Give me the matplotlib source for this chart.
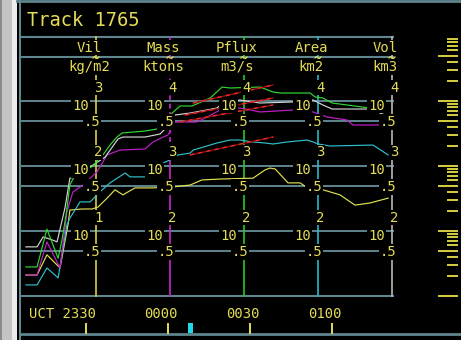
import numpy as np
import matplotlib.pyplot as plt
from matplotlib import transforms
from matplotlib.patches import Rectangle

plt.rcParams['font.family'] = ['DejaVu Sans Mono']

title = "Track 1765"
var_names = ["Vil", "Mass", "Pflux", "Area", "Vol"]
var_units = ["kg/m2", "ktons", "m3/s", "km2", "km3"]
var_top_exp = [3, 4, 4, 4, 4]
time_ticks = [30, 60, 90, 120]          # minutes after 2300 UCT
time_labels = ["UCT 2330", "0000", "0030", "0100"]
cursor_time = 68.2

# series, time in minutes after 2300 UCT
vil_t = [8.0, 12.1, 15.7, 20.5, 23.4, 24.1, 28.5, 32.2, 34.4, 37.7, 40.6, 43.5,
         47.9, 54.5, 62.6, 68.1, 72.4, 79.0, 91.1, 95.5, 97.3, 99.2, 103.9,
         108.3, 110.1, 116.7, 122.9, 128.4, 133.9, 140.5]
vil = [2.1, 2.1, 4.3, 2.7, 12.4, 21, 21.8, 21.8, 23.4, 32, 43, 36, 46, 46, 48,
       51, 61, 63, 65, 87, 93, 90, 55, 55, 49, 43, 36, 25, 27, 32]

mass_t = [8.0, 12.1, 15.7, 20.5, 23.0, 25.2, 28.9, 34.0, 37.7, 42.4, 51.6, 54.5,
          58.2, 60.0, 62.6, 70.6, 74.3, 79.0, 86.3, 93.7, 105.7, 113.1, 118.2,
          125.5, 127.7, 138.3]
mass = [21, 21, 68, 27, 196, 398, 510, 810, 1480, 1760, 1830, 2340, 2790, 3000,
        4750, 4750, 5670, 7270, 7800, 6780, 7270, 6780, 5670, 5100, 4270, 4270]

pflux_t = [8.0, 12.1, 15.7, 19.8, 21.2, 22.7, 24.1, 25.6, 32.6, 34.4, 36.2, 38.8,
           41.3, 43.2, 51.6, 56.0, 58.9, 61.5, 64.4, 68.8, 75.4, 79.8, 82.7,
           93.7, 98.4, 101.0, 112.0, 113.8, 116.7, 120.0, 133.9]
pflux = [28, 28, 107, 38, 73, 176, 510, 680, 1000, 1240, 1480, 2100, 2790, 3220,
         3450, 3710, 4590, 6530, 8380, 8380, 11100, 16400, 15850, 16400, 13750,
         13270, 13270, 11530, 11120, 9310, 7800]

area_t = [8.0, 12.1, 15.7, 19.8, 23.0, 24.1, 27.8, 31.5, 35.1, 38.8, 44.3, 46.1,
          52.3, 58.2, 60.7, 63.7, 68.1, 69.2, 77.9, 82.7, 86.3, 91.1, 95.5, 98.4,
          103.5, 110.9, 113.1, 114.9, 119.3, 135.0, 140.5]
area = [14.8, 14.8, 27, 19, 124, 158, 280, 280, 400, 550, 780, 680, 680, 1110,
        1240, 1480, 1580, 1760, 2260, 2510, 2510, 2340, 2260, 2180, 2340, 2510,
        2340, 2180, 2030, 2100, 1480]

vol_t = [8.0, 12.1, 14.3, 17.6, 19.4, 22.3, 24.1, 26.0, 37.0, 41.7, 43.5, 51.6,
         57.1, 59.6, 62.6, 68.1, 77.9, 80.1, 86.3, 93.7, 105.7, 113.1, 116.7,
         120.0, 133.9, 139.4]
vol = [57, 57, 81, 73, 68, 226, 650, 680, 1375, 2600, 2790, 2790, 3110, 3980,
       6090, 6530, 7800, 9310, 10360, 9310, 9660, 10360, 8670, 7530, 7530, 6090]

# red trend lines (start/end time, start/end value)
trend_t0 = [69.2, 66.2, 64.4, 68.1]
trend_t1 = [98.4, 98.4, 98.4, 98.4]
trend_v0 = [9310, 6090, 4750, 1480]
trend_v1 = [17620, 11120, 8670, 2790]

# layout in screen pixels
W, H = 461, 340
box_l, box_r, box_t, box_b = 20, 393, 37, 296
axis_px = [96, 170, 244, 318, 392]
t_left, t_right = 5.85, 142.3
v_bottom, v_top = 1.0, 10 ** (259 / 65)

YEL = '#e4dc58'
SLATE = '#5f858f'
axis_colors = ['#d8d040', '#c828c8', '#28c828', '#28b8c8', '#b8b8b8']
fs = 10

fig = plt.figure(figsize=(W / 100, H / 100), dpi=100, facecolor='black')
pix = fig.add_axes([0, 0, 1, 1])
pix.set_xlim(0, W)
pix.set_ylim(H, 0)
pix.set_axis_off()

ax = fig.add_axes([box_l / W, (H - box_b) / H, (box_r - box_l) / W, (box_b - box_t) / H])
ax.set_yscale('log')
ax.set_axis_off()
ax.patch.set_visible(False)

T_pix = pix.transData
T_px_val = transforms.blended_transform_factory(pix.transData, ax.transData)
T_time_px = transforms.blended_transform_factory(ax.transData, pix.transData)

# window frame
pix.add_patch(Rectangle((0, 0), 17, H, color='#c4c4c4', lw=0))
pix.add_patch(Rectangle((12, 0), 5, H, color='#ececec', lw=0))
pix.add_patch(Rectangle((0, 0), 1.5, H, color='#8a8a8a', lw=0))
pix.plot([17, W], [1, 1], color=SLATE, lw=2)
pix.plot([box_l, box_l], [0, H], color=SLATE, lw=1.5)
pix.plot([box_l, W], [333.5, 333.5], color=SLATE, lw=2)
pix.plot([box_l, box_r], [box_b, box_b], color=SLATE, lw=1.5)
pix.plot([box_l, box_r], [box_t, box_t], color=SLATE, lw=1.5)
pix.plot([box_l, box_r], [57, 57], color=SLATE, lw=1.5)

pix.text(27, 20, title, color=YEL, fontsize=13.5, ha='left', va='center')

# grid lines
for g in [5, 10, 50, 100, 500, 1000]:
    ax.plot([box_l, box_r], [g, g], transform=T_px_val, color=SLATE, lw=1.4,
            zorder=1, clip_on=False)

# variable axes
for i, xa in enumerate(axis_px):
    c = axis_colors[i]
    if i == 1:
        ax.plot([xa, xa], [box_t, 150], transform=T_pix, color=c, lw=1.2,
                ls=(0, (3, 2)), zorder=2, clip_on=False)
        ax.plot([xa, xa], [150, box_b], transform=T_pix, color=c, lw=1.2,
                zorder=2, clip_on=False)
    else:
        ax.plot([xa, xa], [box_t, box_b], transform=T_pix, color=c, lw=1.2,
                zorder=2, clip_on=False)

# data series
series = [(vil_t, vil, 1.0, '#e0e050'), (area_t, area, 0.1, '#30c0cc'),
          (mass_t, mass, 0.1, '#c020c8'), (vol_t, vol, 0.1, '#d4d4d4'),
          (pflux_t, pflux, 0.1, '#30d830')]
for t, v, f, c in series:
    ax.plot(t, np.array(v) * f, color=c, lw=0.85, zorder=3, clip_on=False)

for t0, t1, v0, v1 in zip(trend_t0, trend_t1, trend_v0, trend_v1):
    ax.plot([t0, t1], [v0 * 0.1, v1 * 0.1], color='#901010', lw=1.0, zorder=4)
    ax.plot([t0, t1], [v0 * 0.1, v1 * 0.1], color='#f02828', lw=1.0,
            ls=(0, (3, 3)), zorder=4.1)

# axis labels
box = dict(facecolor='black', edgecolor='none', pad=0.6)
lab = dict(color=YEL, fontsize=fs, zorder=6, annotation_clip=False, bbox=box)
for i, xa in enumerate(axis_px):
    for k, d in enumerate([10, 100, 1000]):
        ex = var_top_exp[i] - 2 + k
        ax.annotate("10", xy=(xa, d), xycoords=T_px_val, xytext=(-7, -4.5),
                    textcoords='offset pixels', ha='right', va='center', **lab)
        ax.annotate(str(ex), xy=(xa, d), xycoords=T_px_val, xytext=(2, 13.5),
                    textcoords='offset pixels', ha='center', va='center', **lab)
        ax.annotate(".5", xy=(xa, d / 2), xycoords=T_px_val, xytext=(-4, -1.5),
                    textcoords='offset pixels', ha='center', va='center', **lab)
    ax.text(xa - 7, 47.5, var_names[i], transform=T_pix, ha='center', va='center',
            color=YEL, fontsize=fs, zorder=6, bbox=box)
    ax.text(xa - 7, 67, var_units[i], transform=T_pix, ha='center', va='center',
            color=YEL, fontsize=fs, zorder=6, bbox=box)
    # small tilde where the axis crosses the header rule
    ax.plot([xa - 3, xa - 1.5, xa, xa + 1.5, xa + 3], [58, 56.5, 57.5, 58.5, 57],
            transform=T_pix, color=YEL, lw=0.9, zorder=7, clip_on=False)

# time axis
for tt, tl in zip(time_ticks, time_labels):
    ax.plot([tt, tt], [324, 333], transform=T_time_px, color=YEL, lw=1.4,
            clip_on=False)
    ax.annotate(tl, xy=(tt, 314), xycoords=T_time_px, xytext=(10, 0),
                textcoords='offset pixels', ha='right', va='center',
                color=YEL, fontsize=fs, annotation_clip=False)
ax.add_patch(Rectangle((cursor_time - 0.9, 323), 1.8, 10, transform=T_time_px,
                       color='#20d8e8', lw=0, clip_on=False))

# scale ladder on the right
for n in range(4):
    for k in range(1, 10):
        v = k * 10 ** n
        x0 = 439 if k in (1, 5) else 448
        ax.plot([x0, 457], [v, v], transform=T_px_val, color='#d8d040', lw=1.4,
                clip_on=False)

ax.set_xlim(t_left, t_right)
ax.set_ylim(v_bottom, v_top)

fig.savefig('out.png', dpi=100, facecolor='black')
